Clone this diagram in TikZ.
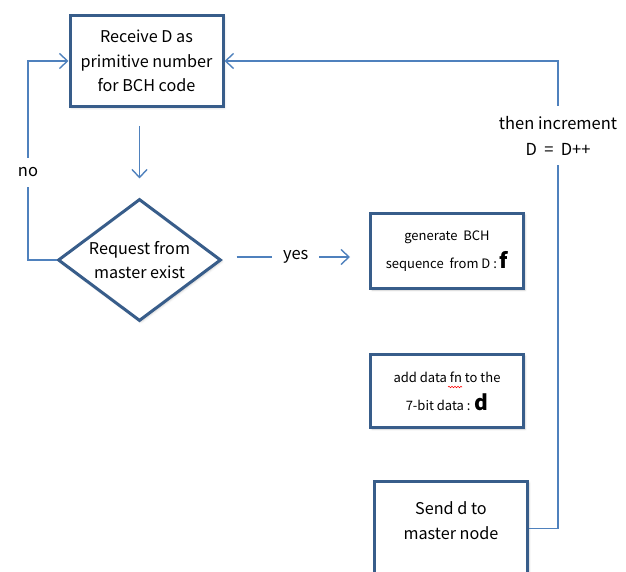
\documentclass[tikz,border=0pt]{standalone}
\usepackage{fontspec}
\setmainfont{Noto Sans CJK KR}
\usetikzlibrary{arrows.meta,positioning,calc,shapes.geometric,shadows.blur,decorations.pathmorphing}
\definecolor{boxblue}{HTML}{385D8A}
\definecolor{lineblue}{HTML}{4F81BD}

\begin{document}
\begin{tikzpicture}[
  x=1pt, y=-1pt,
  box/.style={draw=boxblue, line width=3pt, fill=white, align=center, inner sep=0pt, minimum width=153pt,
    blur shadow={shadow xshift=1.5pt, shadow yshift=-1.5pt, shadow opacity=20, shadow blur steps=4}},
  decision/.style={box, diamond, minimum width=163pt, minimum height=122pt, aspect=1.34},
  arrow/.style={draw=lineblue, line width=1.4pt, -{Straight Barb[length=8pt,width=15pt]}},
  tag/.style={fill=white, inner xsep=11pt, inner ysep=10pt, align=center},
  big/.style={font=\fontsize{16.2}{24.5}\selectfont},
  label/.style={font=\fontsize{16.5}{26}\selectfont},
  small/.style={font=\fontsize{13}{28}\selectfont}
]
\useasboundingbox (0,0) rectangle (626,572);
\node[box, big, minimum height=91pt] (receive) at (146.5,61) {Receive D as\\primitive number\\for BCH code};
\node[decision, big] (request) at (139.5,260) {Request from\\master exist};
\node[box, small, minimum height=75pt] (generate) at (447,251) {generate\ \ BCH\\sequence\ \ from D : {\fontsize{21}{21}\selectfont\bfseries f}};
\node[box, small, minimum height=73pt] (adddata) at (447,391) {add data fn to the\\7-bit data : {\fontsize{21}{21}\selectfont\bfseries d}};
\node[box, big, minimum height=94pt] (send) at (451,528.5) {Send d to\\master node\\[-8.5pt]\mbox{}};
\coordinate (noturn) at (28,61);
\coordinate (backturn) at (558,61);
\draw[arrow, shorten <=18pt, shorten >=19pt] (request.north |- receive.south) -- (request.north);
\draw[arrow, shorten <=14pt, shorten >=19pt] ([yshift=3pt]request.east) -- node[tag, label]{yes} ([yshift=3pt]request.east -| generate.west);
\draw[arrow] (request.west) -| node[tag, label, pos=0.72]{no} (noturn) -- (receive.west);
\draw[arrow] (send.east) -| node[tag, label, pos=0.92]{then increment\\D\ \ =\ \ D++} (backturn) -- (receive.east);
\draw[red, line width=0.6pt, decorate, decoration={snake, amplitude=0.7pt, segment length=3pt}]
  ($(adddata.center)+(1,-4)$) -- ($(adddata.center)+(15,-4)$);
\end{tikzpicture}
\end{document}
